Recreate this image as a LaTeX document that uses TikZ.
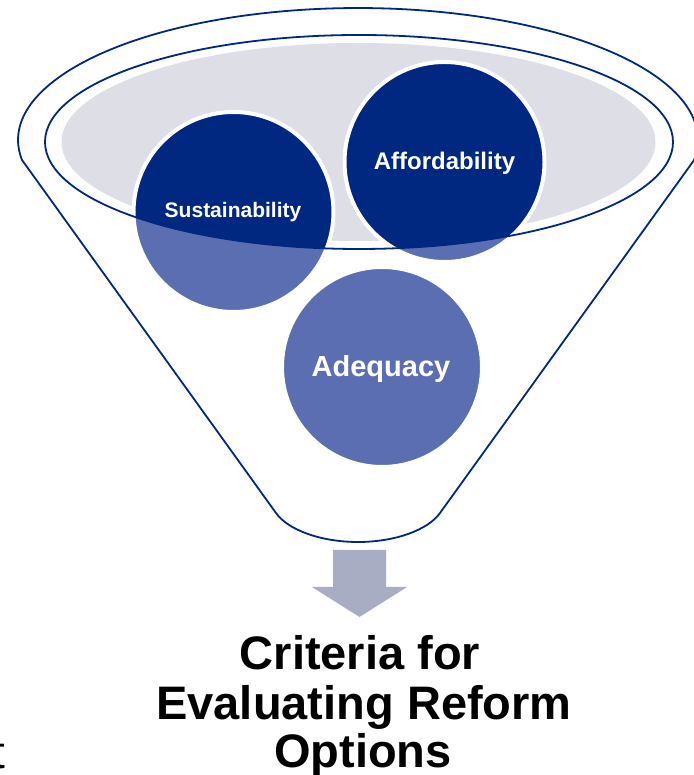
\documentclass[tikz,border=0pt]{standalone}
\usepackage{fontspec}
\setmainfont{Liberation Sans}
\definecolor{navy}{RGB}{0,40,128}
\definecolor{patblue}{RGB}{92,110,178}
\definecolor{lgray}{RGB}{221,222,230}
\definecolor{arrowgray}{RGB}{169,173,196}
\tikzset{
  funnelline/.style={draw=navy, line width=1.8pt, line join=round},
  ringline/.style={draw=white, line width=4pt},
  circtext/.style={text=white, font=\bfseries, anchor=base, inner sep=0pt},
  titletext/.style={text=black, font=\bfseries\fontsize{47}{49}\selectfont, anchor=base, inner sep=0pt}
}
\begin{document}
\begin{tikzpicture}[x=1pt,y=1pt]
\useasboundingbox (0,0) rectangle (693,775);
% funnel outline
\filldraw[funnelline, fill=white] (276,262) -- (22,615)
  arc[start angle=188.7, end angle=-8.7, x radius=340, y radius=132]
  -- (440,262) .. controls (428,245) and (395,233) .. (358,233)
  .. controls (321,233) and (288,245) .. (276,262) -- cycle;
% gray inner fill
\fill[lgray] (358.5,633) ellipse [x radius=297, y radius=99];
% circles
\foreach \cx/\cy in {233.5/563, 444.5/613, 382/408}{
  \fill[patblue] (\cx,\cy) circle[radius=100];
  \begin{scope}
    \clip (359,633) ellipse [x radius=314, y radius=107];
    \fill[navy] (\cx,\cy) circle[radius=100];
  \end{scope}
  \draw[ringline] (\cx,\cy) circle[radius=100];
}
% inner ellipse outline
\draw[funnelline] (359,633) ellipse [x radius=314, y radius=107];
% labels
\node[circtext, font=\bfseries\fontsize{21}{25}\selectfont] (sust) at (233,557) {Sustainability};
\node[circtext, font=\bfseries\fontsize{24}{28}\selectfont] (aff) at (444.5,605) {Affordability};
\node[circtext, font=\bfseries\fontsize{29}{33}\selectfont] (adeq) at (381,398) {Adequacy};
% block arrow
\fill[arrowgray] (333,225) -- (386,225) -- (386,188) -- (407,188) -- (359.5,158)
  -- (312,188) -- (333,188) -- cycle;
% title
\node[titletext] (t1) at (360,105) {Criteria for};
\node[titletext] (t2) at (364,55) {Evaluating Reform};
\node[titletext] (t3) at (363,8) {Options};
% cut-off letter at left edge
\node[anchor=base west, inner sep=0pt, font=\fontsize{46}{50}\selectfont] (cut) at (-8,6) {t};
\end{tikzpicture}
\end{document}
